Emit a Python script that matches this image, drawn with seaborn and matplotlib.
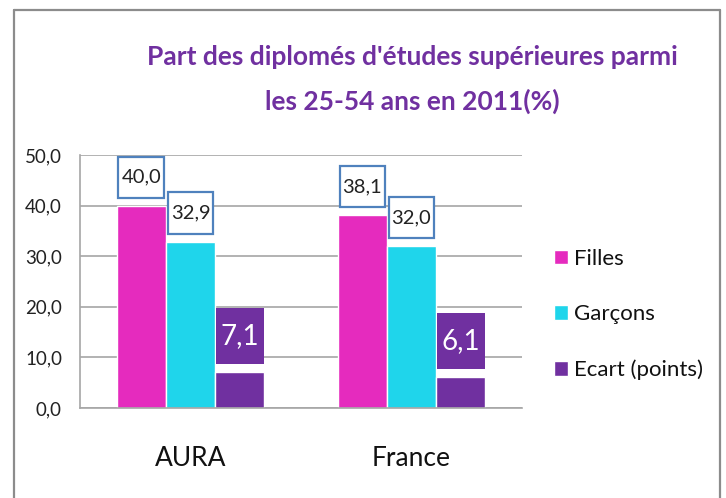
import pandas as pd
import matplotlib.pyplot as plt
import seaborn as sns
from matplotlib.lines import Line2D
from matplotlib.path import Path
from matplotlib.ticker import FuncFormatter

# data
regions = ['AURA', 'France']
series = ['Filles', 'Garçons', 'Ecart (points)']
filles = [40.0, 38.1]
garcons = [32.9, 32.0]
ecart = [7.1, 6.1]

colors = ['#E52BBE', '#1FD5EB', '#7030A0']
title_lines = ["Part des diplomés d'études supérieures parmi", "les 25-54 ans en 2011(%)"]

df = pd.DataFrame({
    'region': regions * 3,
    'serie': [s for s in series for _ in regions],
    'valeur': filles + garcons + ecart,
})


def box(padx, pady):
    # rectangle box with separate horizontal / vertical padding (in font units)
    def style(x0, y0, width, height, mutation_size):
        px, py = padx * mutation_size, pady * mutation_size
        x1, y1 = x0 - px, y0 - py
        x2, y2 = x0 + width + px, y0 + height + py
        return Path([(x1, y1), (x2, y1), (x2, y2), (x1, y2), (x1, y1)], closed=True)
    return style


sns.set_style('white')
plt.rcParams['font.family'] = ['Lato', 'DejaVu Sans']

fig = plt.figure(figsize=(7.26, 4.98), dpi=100)
ax = fig.add_axes([80 / 726, 90 / 498, 442 / 726, 253 / 498])

sns.barplot(data=df, x='region', y='valeur', hue='serie', hue_order=series,
            palette=colors, width=0.667, saturation=1, ax=ax, legend=True)

ax.set_ylim(0, 50)
ax.set_xlim(-0.5, 1.5)
ax.set_yticks(range(0, 51, 10))
ax.yaxis.set_major_formatter(FuncFormatter(lambda v, p: f'{v:.1f}'.replace('.', ',')))
ax.yaxis.grid(True, color='#A6A6A6', lw=1.2)
ax.set_axisbelow(True)
ax.set_xlabel('')
ax.set_ylabel('')
for s in ['top', 'right']:
    ax.spines[s].set_visible(False)
for s in ['left', 'bottom']:
    ax.spines[s].set_color('#A6A6A6')
    ax.spines[s].set_linewidth(1.2)
ax.tick_params(axis='y', length=0, pad=13, labelsize=13.5, labelcolor='#222222')
ax.tick_params(axis='x', length=0, pad=27, labelsize=19, labelcolor='#111111')

# data labels
for i, cont in enumerate(ax.containers):
    for bar in cont:
        h = bar.get_height()
        txt = f'{h:.1f}'.replace('.', ',')
        xc = bar.get_x() + bar.get_width() / 2
        if i < 2:
            ax.annotate(txt, (xc, h), xytext=(0, 20), textcoords='offset pixels',
                        ha='center', va='bottom', fontsize=14.5, color='#222222',
                        bbox=dict(boxstyle=box(0.15, 0.6), fc='white',
                                  ec='#4F81BD', lw=1.6))
        else:
            ax.annotate(txt, (xc, h), xytext=(0, 23), textcoords='offset pixels',
                        ha='center', va='bottom', fontsize=20, color='white',
                        bbox=dict(boxstyle=box(0.17, 0.55), fc='#7030A0',
                                  ec='#7030A0', lw=0))

leg = ax.legend(loc='center left', bbox_to_anchor=(554 / 726, 1 - 314.5 / 498),
                bbox_transform=fig.transFigure, frameon=False, fontsize=16,
                handlelength=0.62, handleheight=0.62, handletextpad=0.3,
                labelspacing=1.6, borderpad=0, borderaxespad=0)
for t in leg.get_texts():
    t.set_color('#111111')

# title
fig.text(412 / 726, 1 - 57 / 498, title_lines[0], ha='center', va='center',
         fontsize=19, fontweight='bold', color='#7030A0')
fig.text(412 / 726, 1 - 101 / 498, title_lines[1], ha='center', va='center',
         fontsize=19, fontweight='bold', color='#7030A0')

# chart frame
fc = '#8C8C8C'
fig.add_artist(Line2D([14 / 726, 14 / 726], [0, 1 - 10 / 498], color=fc, lw=1.6,
                      transform=fig.transFigure))
fig.add_artist(Line2D([14 / 726, 720 / 726], [1 - 10 / 498, 1 - 10 / 498], color=fc,
                      lw=1.6, transform=fig.transFigure))
fig.add_artist(Line2D([720 / 726, 720 / 726], [0, 1 - 10 / 498], color=fc, lw=1.6,
                      transform=fig.transFigure))

fig.savefig('out.png', dpi=100)
